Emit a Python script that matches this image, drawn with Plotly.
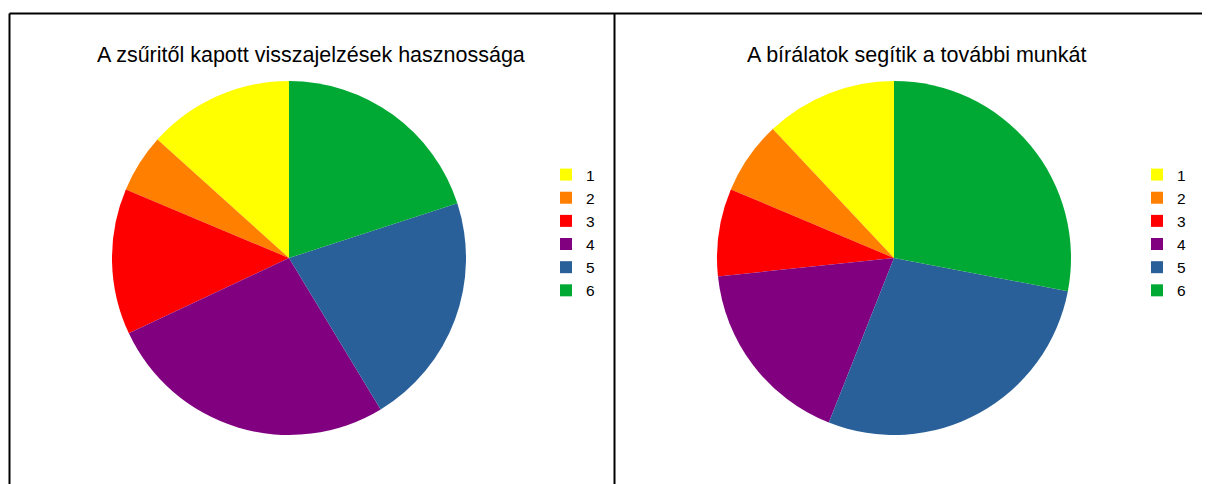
import plotly.graph_objects as go

# The page body has an 8px margin, so the figure is drawn 8px in and slightly smaller.
OFF = 8
W, H = 1210 - OFF, 484 - OFF

labels = ["1", "2", "3", "4", "5", "6"]
colors = ["#FFFF00", "#FF8000", "#FF0000", "#800080", "#2A6099", "#00A933"]

title1 = "A zsűritől kapott visszajelzések hasznossága"
values1 = [10, 4, 10, 20, 16, 15]

title2 = "A bírálatok segítik a további munkát"
values2 = [9, 5, 6, 13, 21, 21]


def px_x(x):
    return (x - OFF) / W


def px_y(y):
    return 1 - (y - OFF) / H


def first_slice_rotation(vals):
    # place the first slice just left of 12 o'clock, others following counterclockwise
    return -360.0 * vals[0] / sum(vals)


R = 177
c1 = (289, 258)
c2 = (894, 258)

fig = go.Figure()
fig.add_trace(go.Pie(
    labels=labels, values=values1, sort=False, direction="counterclockwise",
    rotation=first_slice_rotation(values1), textinfo="none", hoverinfo="label+value+percent",
    marker=dict(colors=colors, line=dict(width=0)),
    domain=dict(x=[px_x(c1[0] - R), px_x(c1[0] + R)], y=[px_y(c1[1] + R), px_y(c1[1] - R)]),
    legend="legend", legendgroup="g1",
))
fig.add_trace(go.Pie(
    labels=labels, values=values2, sort=False, direction="counterclockwise",
    rotation=first_slice_rotation(values2), textinfo="none", hoverinfo="label+value+percent",
    marker=dict(colors=colors, line=dict(width=0)),
    domain=dict(x=[px_x(c2[0] - R), px_x(c2[0] + R)], y=[px_y(c2[1] + R), px_y(c2[1] - R)]),
    legend="legend2", legendgroup="g2",
))

leg_font = dict(family="Liberation Sans, Arial, sans-serif", size=15.5, color="#000000")
fig.update_layout(
    width=W, height=H,
    margin=dict(l=0, r=0, t=0, b=0),
    paper_bgcolor="white", plot_bgcolor="white",
    font=dict(family="Liberation Sans, Arial, sans-serif", color="#000000"),
    legend=dict(x=px_x(546), y=px_y(158), xanchor="left", yanchor="top",
                font=leg_font, bgcolor="rgba(0,0,0,0)", tracegroupgap=0),
    legend2=dict(x=px_x(1137), y=px_y(158), xanchor="left", yanchor="top",
                 font=leg_font, bgcolor="rgba(0,0,0,0)", tracegroupgap=0),
    annotations=[
        dict(text=title1, x=px_x(311), y=px_y(55), xref="paper", yref="paper",
             showarrow=False, font=dict(size=21.5), xanchor="center", yanchor="middle"),
        dict(text=title2, x=px_x(916), y=px_y(55), xref="paper", yref="paper",
             showarrow=False, font=dict(size=21.5), xanchor="center", yanchor="middle"),
    ],
    shapes=[
        dict(type="line", xref="paper", yref="paper", x0=px_x(9.5), x1=1.02,
             y0=px_y(13.5), y1=px_y(13.5), line=dict(color="black", width=2)),
        dict(type="line", xref="paper", yref="paper", x0=px_x(9.5), x1=px_x(9.5),
             y0=px_y(13.5), y1=-0.02, line=dict(color="black", width=2)),
        dict(type="line", xref="paper", yref="paper", x0=px_x(614.5), x1=px_x(614.5),
             y0=px_y(13.5), y1=-0.02, line=dict(color="black", width=2)),
    ],
)

fig.write_html("out.html")
